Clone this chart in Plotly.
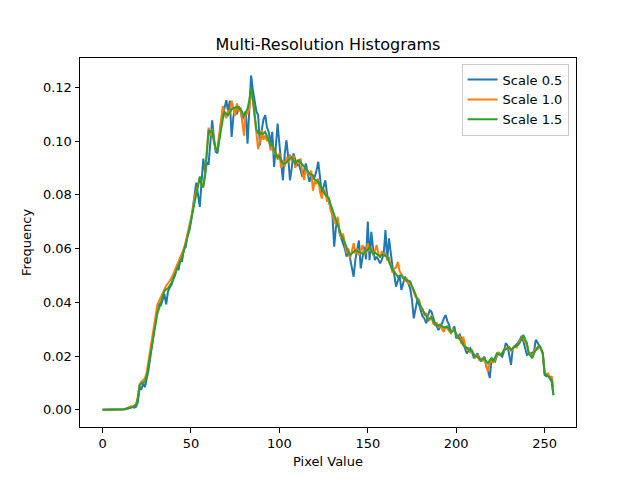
import plotly.graph_objects as go

pixel_values = list(range(256))

scale_0_5 = [
    0, 0, 0, 0, 0, 0, 0, 0, 0, 0,
    0, 0, 0.0001, 0.0002, 0.0004, 0.0006, 0.0008, 0.0010, 0.0008, 0.0012,
    0.0030, 0.0085, 0.0078, 0.0098, 0.0085, 0.0115, 0.0150, 0.0195, 0.0240, 0.0300,
    0.0330, 0.0380, 0.0395, 0.0390, 0.0410, 0.0430, 0.0392, 0.0440, 0.0455, 0.0465,
    0.0485, 0.0500, 0.0530, 0.0520, 0.0560, 0.0555, 0.0600, 0.0605, 0.0650, 0.0665,
    0.0700, 0.0750, 0.0800, 0.0845, 0.0800, 0.0755, 0.0850, 0.0935, 0.0880, 0.0920,
    0.0916, 0.1000, 0.1077, 0.1010, 0.0960, 0.0955, 0.1010, 0.1070, 0.1095, 0.1120,
    0.1152, 0.1110, 0.1150, 0.1015, 0.1090, 0.1120, 0.1100, 0.1130, 0.1115, 0.1080,
    0.1096, 0.1110, 0.0990, 0.1150, 0.1244, 0.1190, 0.1140, 0.1110, 0.1096, 0.0984,
    0.1040, 0.1080, 0.1096, 0.1050, 0.1034, 0.0990, 0.1034, 0.0904, 0.0980, 0.1065,
    0.0990, 0.0920, 0.0854, 0.0950, 0.1003, 0.0940, 0.0854, 0.0900, 0.0954, 0.0930,
    0.0910, 0.0916, 0.0890, 0.0867, 0.0890, 0.0916, 0.0880, 0.0848, 0.0870, 0.0860,
    0.0867, 0.0890, 0.0923, 0.0860, 0.0805, 0.0830, 0.0854, 0.0800, 0.0774, 0.0750,
    0.0724, 0.0607, 0.0680, 0.0706, 0.0660, 0.0638, 0.0619, 0.0600, 0.0570, 0.0590,
    0.0563, 0.0530, 0.0495, 0.0560, 0.0600, 0.0630, 0.0526, 0.0570, 0.0607, 0.0560,
    0.0700, 0.0557, 0.0662, 0.0600, 0.0557, 0.0570, 0.0560, 0.0545, 0.0560, 0.0580,
    0.0669, 0.0557, 0.0638, 0.0580, 0.0530, 0.0500, 0.0458, 0.0480, 0.0500, 0.0446,
    0.0470, 0.0495, 0.0480, 0.0470, 0.0450, 0.0409, 0.0340, 0.0380, 0.0409, 0.0390,
    0.0372, 0.0347, 0.0340, 0.0322, 0.0350, 0.0370, 0.0365, 0.0340, 0.0322, 0.0310,
    0.0297, 0.0310, 0.0322, 0.0340, 0.0353, 0.0330, 0.0316, 0.0285, 0.0300, 0.0310,
    0.0266, 0.0275, 0.0280, 0.0265, 0.0248, 0.0230, 0.0210, 0.0220, 0.0229, 0.0215,
    0.0192, 0.0200, 0.0210, 0.0195, 0.0180, 0.0190, 0.0198, 0.0160, 0.0145, 0.0118,
    0.0192, 0.0186, 0.0180, 0.0200, 0.0210, 0.0205, 0.0198, 0.0215, 0.0248, 0.0240,
    0.0198, 0.0167, 0.0229, 0.0235, 0.0241, 0.0250, 0.0260, 0.0275, 0.0254, 0.0223,
    0.0204, 0.0208, 0.0210, 0.0212, 0.0217, 0.0260, 0.0250, 0.0240, 0.0225, 0.0210,
    0.0130, 0.0125, 0.0130, 0.0115, 0.0105, 0.0055,
]

scale_1_0 = [
    0, 0, 0, 0, 0, 0, 0, 0, 0, 0,
    0, 0, 0.0001, 0.0003, 0.0006, 0.0010, 0.0013, 0.0012, 0.0016, 0.0020,
    0.0050, 0.0095, 0.0105, 0.0110, 0.0118, 0.0140, 0.0180, 0.0225, 0.0270, 0.0310,
    0.0350, 0.0392, 0.0405, 0.0420, 0.0430, 0.0448, 0.0462, 0.0470, 0.0478, 0.0490,
    0.0505, 0.0520, 0.0540, 0.0552, 0.0565, 0.0580, 0.0600, 0.0625, 0.0652, 0.0680,
    0.0710, 0.0742, 0.0790, 0.0815, 0.0840, 0.0860, 0.0838, 0.0840, 0.0885, 0.0962,
    0.1050, 0.1020, 0.1045, 0.0995, 0.0965, 0.0975, 0.1030, 0.1080, 0.1130, 0.1105,
    0.1085, 0.1115, 0.1100, 0.1150, 0.1120, 0.1095, 0.1140, 0.1110, 0.1125, 0.1070,
    0.1020, 0.1110, 0.1100, 0.1120, 0.1190, 0.1150, 0.1090, 0.1010, 0.0970, 0.1000,
    0.1040, 0.1005, 0.1020, 0.1000, 0.1010, 0.0965, 0.0985, 0.0955, 0.0960, 0.0930,
    0.0955, 0.0900, 0.0930, 0.0905, 0.0940, 0.0920, 0.0950, 0.0925, 0.0945, 0.0900,
    0.0930, 0.0915, 0.0935, 0.0880, 0.0855, 0.0900, 0.0885, 0.0870, 0.0890, 0.0815,
    0.0850, 0.0840, 0.0860, 0.0810, 0.0786, 0.0820, 0.0810, 0.0775, 0.0790, 0.0740,
    0.0735, 0.0700, 0.0690, 0.0718, 0.0660, 0.0640, 0.0655, 0.0610, 0.0582, 0.0600,
    0.0565, 0.0590, 0.0620, 0.0580, 0.0600, 0.0575, 0.0595, 0.0613, 0.0580, 0.0585,
    0.0620, 0.0590, 0.0605, 0.0575, 0.0590, 0.0613, 0.0580, 0.0565, 0.0590, 0.0575,
    0.0580, 0.0560, 0.0565, 0.0540, 0.0510, 0.0525, 0.0530, 0.0550, 0.0515, 0.0505,
    0.0495, 0.0480, 0.0490, 0.0470, 0.0475, 0.0455, 0.0440, 0.0420, 0.0415, 0.0410,
    0.0380, 0.0375, 0.0350, 0.0360, 0.0330, 0.0335, 0.0350, 0.0320, 0.0315, 0.0325,
    0.0305, 0.0320, 0.0300, 0.0290, 0.0310, 0.0300, 0.0295, 0.0285, 0.0300, 0.0290,
    0.0285, 0.0265, 0.0275, 0.0245, 0.0272, 0.0240, 0.0225, 0.0230, 0.0212, 0.0220,
    0.0210, 0.0195, 0.0205, 0.0185, 0.0190, 0.0180, 0.0195, 0.0165, 0.0142, 0.0175,
    0.0185, 0.0175, 0.0190, 0.0200, 0.0215, 0.0205, 0.0215, 0.0220, 0.0230, 0.0225,
    0.0235, 0.0220, 0.0225, 0.0240, 0.0230, 0.0245, 0.0255, 0.0270, 0.0265, 0.0255,
    0.0240, 0.0215, 0.0205, 0.0200, 0.0215, 0.0230, 0.0225, 0.0235, 0.0230, 0.0205,
    0.0140, 0.0130, 0.0135, 0.0118, 0.0125, 0.0085,
]

scale_1_5 = [
    0, 0, 0, 0, 0, 0, 0, 0, 0, 0,
    0, 0, 0.0002, 0.0004, 0.0005, 0.0007, 0.0009, 0.0011, 0.0014, 0.0018,
    0.0045, 0.0092, 0.0099, 0.0102, 0.0106, 0.0125, 0.0162, 0.0205, 0.0248, 0.0288,
    0.0322, 0.0358, 0.0378, 0.0398, 0.0418, 0.0442, 0.0448, 0.0452, 0.0462, 0.0472,
    0.0490, 0.0508, 0.0525, 0.0538, 0.0552, 0.0568, 0.0592, 0.0613, 0.0641, 0.0670,
    0.0702, 0.0738, 0.0778, 0.0800, 0.0832, 0.0868, 0.0835, 0.0828, 0.0870, 0.0950,
    0.1040, 0.1034, 0.1038, 0.1002, 0.0972, 0.0962, 0.1002, 0.1052, 0.1082, 0.1108,
    0.1100, 0.1096, 0.1108, 0.1118, 0.1122, 0.1125, 0.1127, 0.1122, 0.1118, 0.1108,
    0.1092, 0.1108, 0.1120, 0.1152, 0.1200, 0.1160, 0.1102, 0.1042, 0.1030, 0.1025,
    0.1030, 0.1027, 0.1034, 0.1020, 0.1002, 0.0982, 0.0990, 0.0966, 0.0950, 0.0940,
    0.0945, 0.0925, 0.0916, 0.0916, 0.0920, 0.0930, 0.0935, 0.0940, 0.0925, 0.0916,
    0.0925, 0.0929, 0.0920, 0.0910, 0.0905, 0.0898, 0.0890, 0.0879, 0.0876, 0.0873,
    0.0856, 0.0854, 0.0848, 0.0835, 0.0824, 0.0810, 0.0800, 0.0793, 0.0786, 0.0765,
    0.0743, 0.0720, 0.0706, 0.0690, 0.0669, 0.0650, 0.0638, 0.0620, 0.0600, 0.0588,
    0.0576, 0.0582, 0.0590, 0.0594, 0.0590, 0.0588, 0.0585, 0.0580, 0.0582, 0.0590,
    0.0595, 0.0607, 0.0590, 0.0580, 0.0585, 0.0580, 0.0575, 0.0570, 0.0578, 0.0576,
    0.0574, 0.0570, 0.0550, 0.0533, 0.0520, 0.0514, 0.0505, 0.0495, 0.0500, 0.0500,
    0.0489, 0.0486, 0.0483, 0.0480, 0.0477, 0.0460, 0.0446, 0.0430, 0.0409, 0.0400,
    0.0384, 0.0370, 0.0360, 0.0350, 0.0334, 0.0340, 0.0345, 0.0330, 0.0320, 0.0316,
    0.0313, 0.0316, 0.0310, 0.0306, 0.0308, 0.0310, 0.0300, 0.0290, 0.0293, 0.0297,
    0.0280, 0.0272, 0.0260, 0.0254, 0.0240, 0.0235, 0.0228, 0.0223, 0.0220, 0.0217,
    0.0204, 0.0200, 0.0198, 0.0190, 0.0186, 0.0190, 0.0192, 0.0180, 0.0173, 0.0185,
    0.0192, 0.0180, 0.0195, 0.0210, 0.0207, 0.0204, 0.0210, 0.0223, 0.0226, 0.0229,
    0.0232, 0.0223, 0.0230, 0.0235, 0.0238, 0.0241, 0.0250, 0.0266, 0.0279, 0.0262,
    0.0248, 0.0210, 0.0200, 0.0192, 0.0210, 0.0223, 0.0232, 0.0241, 0.0225, 0.0210,
    0.0136, 0.0128, 0.0124, 0.0120, 0.0110, 0.0055,
]

series_names = ["Scale 0.5", "Scale 1.0", "Scale 1.5"]
series_colors = ["#1f77b4", "#ff7f0e", "#2ca02c"]
x_ticks = [0, 50, 100, 150, 200, 250]
y_ticks = [0.00, 0.02, 0.04, 0.06, 0.08, 0.10, 0.12]

assert len(scale_0_5) == len(scale_1_0) == len(scale_1_5) == len(pixel_values)

fig = go.Figure()
for name, vals, col in zip(series_names, [scale_0_5, scale_1_0, scale_1_5], series_colors):
    fig.add_trace(go.Scatter(x=pixel_values, y=vals, mode="lines", name=name,
                             line=dict(color=col, width=2)))

font = "DejaVu Sans, sans-serif"
axis_common = dict(showgrid=False, zeroline=False, showline=True, linecolor="black",
                   linewidth=1, mirror=True, ticks="outside", ticklen=4.5,
                   tickcolor="black", tickfont=dict(family=font, size=13, color="black"))

# The page body adds an 8px offset; margins compensate so the axes box
# lands at the same screen pixels as the reference (80..576 x 57.6..427.2).
fig.update_layout(
    width=640, height=480,
    margin=dict(l=72, r=72, t=49.6, b=60.8),
    paper_bgcolor="white", plot_bgcolor="white",
    font=dict(family=font, color="black"),
    title=dict(text="Multi-Resolution Histograms", x=0.5, xanchor="center",
               y=1 - 36 / 480, yanchor="middle", font=dict(family=font, size=16, color="black")),
    xaxis=dict(range=[-12.75, 267.75], tickvals=x_ticks, ticktext=[str(t) for t in x_ticks],
               title=dict(text="Pixel Value", font=dict(family=font, size=13), standoff=6),
               **axis_common),
    yaxis=dict(range=[-0.0064, 0.1309], tickvals=y_ticks, ticktext=[f"{t:.2f}" for t in y_ticks],
               title=dict(text="Frequency", font=dict(family=font, size=13), standoff=8),
               **axis_common),
    legend=dict(x=0.985, y=0.985, xanchor="right", yanchor="top", bgcolor="rgba(255,255,255,0.8)",
                bordercolor="#cccccc", borderwidth=1, font=dict(family=font, size=13),
                tracegroupgap=0, itemwidth=30),
    showlegend=True,
)

fig.write_html("out.html")
